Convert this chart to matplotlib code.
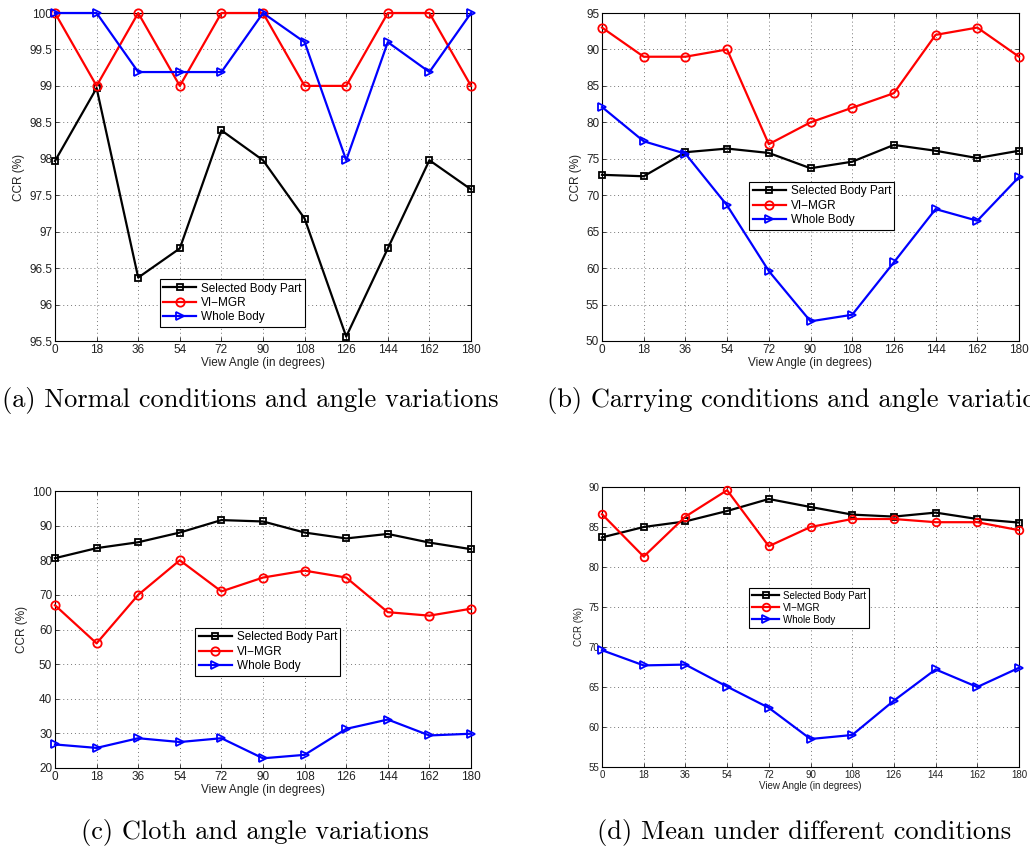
import matplotlib
matplotlib.use("Agg")
import matplotlib.pyplot as plt

angles = [0, 18, 36, 54, 72, 90, 108, 126, 144, 162, 180]
labels = ["Selected Body Part", "VI\u2212MGR", "Whole Body"]

# (a) normal conditions
normal_sbp = [97.97, 98.97, 96.37, 96.77, 98.39, 97.98, 97.18, 95.56, 96.77, 97.98, 97.58]
normal_vimgr = [100, 99, 100, 99, 100, 100, 99, 99, 100, 100, 99]
normal_whole = [100, 100, 99.19, 99.19, 99.19, 100, 99.6, 97.98, 99.6, 99.19, 100]

# (b) carrying conditions
carry_sbp = [72.8, 72.6, 75.9, 76.4, 75.8, 73.7, 74.6, 76.9, 76.1, 75.1, 76.1]
carry_vimgr = [93, 89, 89, 90, 77, 80, 82, 84, 92, 93, 89]
carry_whole = [82.1, 77.4, 75.7, 68.6, 59.6, 52.7, 53.6, 60.8, 68.1, 66.5, 72.5]

# (c) cloth
cloth_sbp = [80.6, 83.5, 85.2, 88.0, 91.6, 91.2, 88.0, 86.3, 87.6, 85.1, 83.2]
cloth_vimgr = [67, 56, 70, 80, 71, 75, 77, 75, 65, 64, 66]
cloth_whole = [26.8, 25.8, 28.6, 27.5, 28.6, 22.8, 23.8, 31.3, 34.0, 29.4, 29.9]

# (d) mean
mean_sbp = [83.7, 85.0, 85.7, 87.0, 88.5, 87.5, 86.55, 86.3, 86.8, 86.0, 85.55]
mean_vimgr = [86.6, 81.3, 86.3, 89.6, 82.6, 85.0, 86.0, 86.0, 85.6, 85.6, 84.6]
mean_whole = [69.6, 67.7, 67.8, 65.05, 62.4, 58.5, 59.0, 63.3, 67.2, 65.0, 67.4]

W, H = 1030, 852
fig = plt.figure(figsize=(W / 100, H / 100), dpi=100)
plt.rcParams["font.family"] = ["Liberation Sans", "DejaVu Sans"]


def px_axes(left, top, right, bottom):
    return fig.add_axes([left / W, (H - bottom) / H, (right - left) / W, (bottom - top) / H])


def panel(ax, sbp, vimgr, whole, ylim, ystep, leg_anchor, fs=8.5, ms=6):
    # MATLAB-ish styles: colour, marker, relative marker size
    styles = [("k", "s", 0.75), ("r", "o", 1.0), ("b", ">", 1.0)]
    for data, (c, m, k), lab in zip([sbp, vimgr, whole], styles, labels):
        ax.plot(angles, data, color=c, marker=m, markerfacecolor="none",
                markeredgewidth=1.3, markersize=ms * k, linewidth=1.6, label=lab,
                clip_on=False, zorder=3)
    ax.set_xlim(0, 180)
    ax.set_ylim(*ylim)
    ax.set_xticks(angles)
    yt = []
    v = ylim[0]
    while v <= ylim[1] + 1e-9:
        yt.append(round(v, 2))
        v += ystep
    ax.set_yticks(yt)
    ax.set_yticklabels(["%g" % t for t in yt])
    ax.grid(True, linestyle=(0, (1, 3)), color="#777777", linewidth=0.7)
    ax.tick_params(direction="in", length=3, width=0.6, labelsize=fs,
                   top=True, right=True, pad=2, colors="#222222")
    for s in ax.spines.values():
        s.set_linewidth(0.8)
    ax.set_xlabel("View Angle (in degrees)", fontsize=fs, labelpad=1, color="#222222")
    ax.set_ylabel("CCR (%)", fontsize=fs, labelpad=3, color="#222222")
    leg = ax.legend(loc="upper left", bbox_to_anchor=leg_anchor, borderaxespad=0,
                    fontsize=fs, fancybox=False, edgecolor="k", framealpha=1,
                    handlelength=2.8, handletextpad=0.4, labelspacing=0.2,
                    borderpad=0.3)
    leg.get_frame().set_linewidth(0.8)


ax_a = px_axes(55, 13, 471, 341)
panel(ax_a, normal_sbp, normal_vimgr, normal_whole, (95.5, 100), 0.5, (0.252, 0.189))

ax_b = px_axes(602, 13, 1019, 341)
panel(ax_b, carry_sbp, carry_vimgr, carry_whole, (50, 95), 5, (0.353, 0.485))

ax_c = px_axes(55, 491, 471, 768)
panel(ax_c, cloth_sbp, cloth_vimgr, cloth_whole, (20, 100), 10, (0.337, 0.506))

ax_d = px_axes(602, 487, 1019, 767)
panel(ax_d, mean_sbp, mean_vimgr, mean_whole, (55, 90), 5, (0.353, 0.640), fs=7, ms=5.5)

cap = dict(family="cmr10", fontsize=19, va="center")
fig.text(250 / W, 1 - 400 / H, "(a) Normal conditions and angle variations", ha="center", **cap)
fig.text(547 / W, 1 - 400 / H, "(b) Carrying conditions and angle variations", ha="left", **cap)
fig.text(255 / W, 1 - 832 / H, "(c) Cloth and angle variations", ha="center", **cap)
fig.text(804 / W, 1 - 832 / H, "(d) Mean under different conditions", ha="center", **cap)

fig.savefig("out.png", dpi=100)
